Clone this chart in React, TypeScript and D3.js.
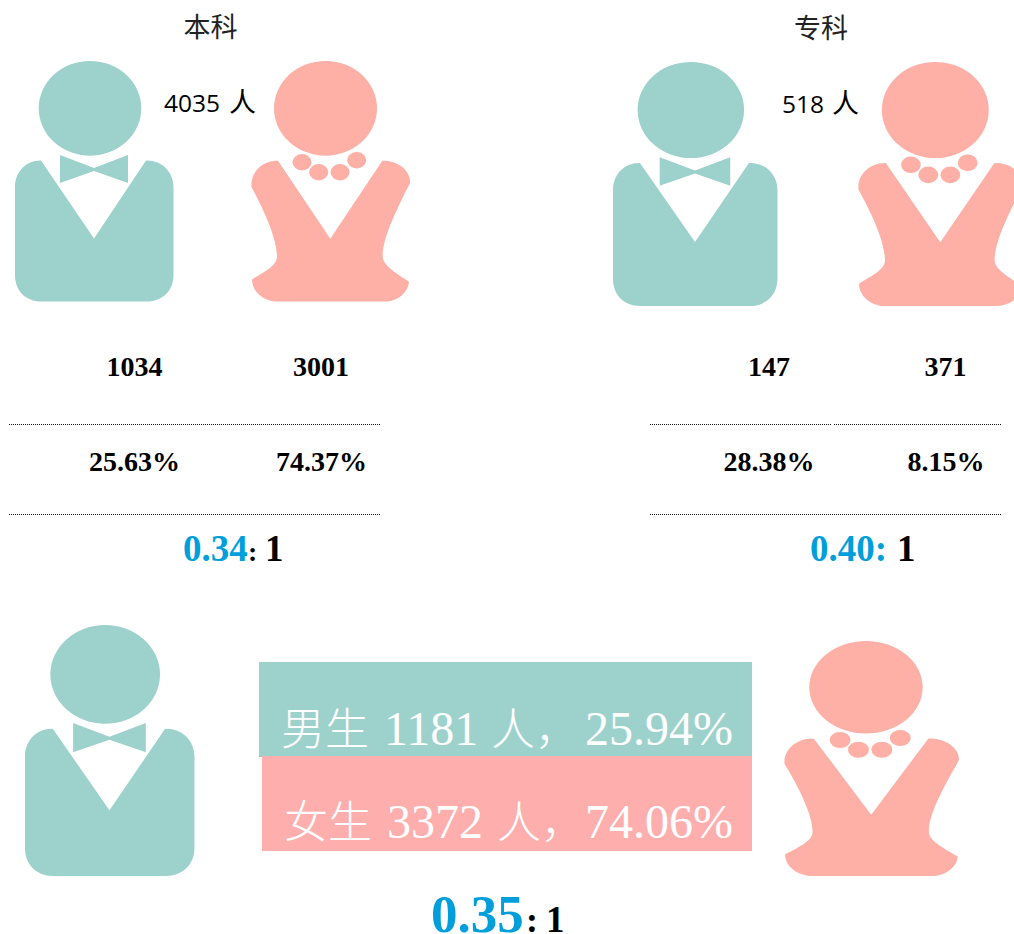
// Gender breakdown infographic: 本科 / 专科 / overall, with person icons.
import * as d3 from "d3";

const WIDTH = 1014;
const HEIGHT = 934;

const TEAL = "#9DD2CC";
const SALMON = "#FEAFA6";
const PINK = "#FFAEAE";
const BLUE = "#009FDB";

const SERIF = "'Liberation Serif', 'Noto Sans CJK SC', serif";
const SANS = "'Open Sans', 'Noto Sans CJK SC', sans-serif";
const CJK = "'Noto Sans CJK SC', sans-serif";

// data
const groupNames = ["本科", "专科"];
const groupTotals = [4035, 518];
const maleCounts = [1034, 147];
const femaleCounts = [3001, 371];
const malePct = [25.63, 28.38];
const femalePct = [74.37, 8.15];
const ratios = [0.34, 0.4];

const overallLabels = ["男生", "女生"];
const overallCounts = [1181, 3372];
const overallPct = [25.94, 74.06];
const overallRatio = 0.35;

const pct = (v: number) => d3.format(".2f")(v) + "%";
const fixed = d3.format(".2f");

type Box = { x0: number; x1: number; y0: number; y1: number };

// icon outlines are drawn in the coordinates of the top-left figures and then scaled to each box
function Man({ x0, x1, y0, y1, blur }: Box & { blur?: boolean }) {
  const sx = d3.scaleLinear().domain([15, 174]).range([x0, x1]);
  const sy = d3.scaleLinear().domain([61, 301.5]).range([y0, y1]);

  const body = d3.path();
  body.moveTo(sx(41), sy(160.5));
  body.lineTo(sx(94), sy(238.5));
  body.lineTo(sx(146), sy(160.5));
  body.bezierCurveTo(sx(162), sy(160), sx(173.5), sy(172), sx(173.5), sy(187));
  body.lineTo(sx(173.5), sy(275));
  body.bezierCurveTo(sx(173.5), sy(291), sx(162), sy(301.5), sx(147), sy(301.5));
  body.lineTo(sx(41), sy(301.5));
  body.bezierCurveTo(sx(26), sy(301.5), sx(15), sy(291), sx(15), sy(275));
  body.lineTo(sx(15), sy(187));
  body.bezierCurveTo(sx(15), sy(172), sx(26), sy(160), sx(41), sy(160.5));
  body.closePath();

  const bow = d3.path();
  bow.moveTo(sx(60), sy(155));
  bow.lineTo(sx(94), sy(168));
  bow.lineTo(sx(128), sy(155));
  bow.lineTo(sx(128), sy(183));
  bow.lineTo(sx(94), sy(171));
  bow.lineTo(sx(60), sy(183));
  bow.closePath();

  return (
    <g fill={TEAL} filter={blur ? "url(#soft)" : undefined}>
      <ellipse cx={sx(90)} cy={sy(108.3)} rx={sx(141.3) - sx(90)} ry={sy(155.7) - sy(108.3)} />
      <path d={body.toString()} />
      <path d={bow.toString()} />
    </g>
  );
}

const beads = [
  [302, 162.3],
  [318.7, 172.3],
  [340, 172.3],
  [356.7, 160.3],
];

function Woman({ x0, x1, y0, y1, blur }: Box & { blur?: boolean }) {
  const sx = d3.scaleLinear().domain([251, 411]).range([x0, x1]);
  const sy = d3.scaleLinear().domain([61, 301.5]).range([y0, y1]);

  const body = d3.path();
  body.moveTo(sx(278), sy(160.7));
  body.lineTo(sx(330.3), sy(238.7));
  body.lineTo(sx(382.3), sy(160.7));
  body.bezierCurveTo(sx(398), sy(160), sx(411), sy(171), sx(410), sy(183));
  body.bezierCurveTo(sx(398), sy(207), sx(382), sy(238), sx(382.7), sy(256.7));
  body.bezierCurveTo(sx(383), sy(266), sx(398), sy(274), sx(409), sy(281.7));
  body.bezierCurveTo(sx(408), sy(293), sx(397), sy(301.5), sx(385), sy(301.5));
  body.lineTo(sx(276.7), sy(301.5));
  body.bezierCurveTo(sx(264), sy(301.5), sx(252), sy(292), sx(252), sy(279.5));
  body.bezierCurveTo(sx(262), sy(273), sx(277), sy(266), sx(277), sy(256.7));
  body.bezierCurveTo(sx(277), sy(238), sx(263), sy(208), sx(251.5), sy(187));
  body.bezierCurveTo(sx(250), sy(173), sx(262), sy(160), sx(278), sy(160.7));
  body.closePath();

  return (
    <g fill={SALMON} filter={blur ? "url(#soft)" : undefined}>
      <ellipse cx={sx(325.5)} cy={sy(108.3)} rx={sx(377) - sx(325.5)} ry={sy(155.7) - sy(108.3)} />
      <path d={body.toString()} />
      {beads.map(([bx, by]) => (
        <ellipse key={bx} cx={sx(bx)} cy={sy(by)} rx={sx(9.5) - sx(0)} ry={sy(8.2) - sy(0)} />
      ))}
    </g>
  );
}

function Rule({ x1, x2, y }: { x1: number; x2: number; y: number }) {
  return <line x1={x1} x2={x2} y1={y} y2={y} stroke="#111" strokeWidth={1} strokeDasharray="1 1" />;
}

const boldNum = { fontFamily: SERIF, fontWeight: 700, fontSize: 28, textAnchor: "middle" as const };

export default function App() {
  return (
    <svg
      width={WIDTH}
      height={HEIGHT}
      viewBox={`0 0 ${WIDTH} ${HEIGHT}`}
      style={{ position: "absolute", left: 0, top: 0, background: "#fff" }}
    >
      <defs>
        <filter id="soft" x="-5%" y="-5%" width="110%" height="110%">
          <feGaussianBlur stdDeviation="0.6" />
        </filter>
      </defs>

      {/* titles and totals */}
      <text x={210.5} y={37} fontFamily={CJK} fontSize={27} fill="#222" textAnchor="middle">{groupNames[0]}</text>
      <text x={821} y={38} fontFamily={CJK} fontSize={27} fill="#222" textAnchor="middle">{groupNames[1]}</text>
      <text x={164} y={112} fontFamily={SANS} fontSize={24.5} fill="#000">{groupTotals[0]}</text>
      <text x={229} y={112} fontFamily={CJK} fontSize={27} fill="#000">人</text>
      <text x={782} y={113} fontFamily={SANS} fontSize={24.5} fill="#000">{groupTotals[1]}</text>
      <text x={832} y={113} fontFamily={CJK} fontSize={27} fill="#000">人</text>

      {/* icons */}
      <Man x0={15} x1={174} y0={61} y1={301.5} />
      <Woman x0={251} x1={411} y0={61} y1={301.5} />
      <Man x0={613} x1={778} y0={62} y1={306} />
      <Woman x0={858} x1={1024} y0={62} y1={306} />
      <Man x0={25} x1={195} y0={625} y1={876} blur />
      <Woman x0={784} x1={960} y0={641} y1={876} blur />

      {/* counts, shares and ratios */}
      <text x={134.5} y={376} {...boldNum}>{maleCounts[0]}</text>
      <text x={321} y={376} {...boldNum}>{femaleCounts[0]}</text>
      <text x={769} y={376} {...boldNum}>{maleCounts[1]}</text>
      <text x={945.5} y={376} {...boldNum}>{femaleCounts[1]}</text>

      <Rule x1={9} x2={380} y={424.5} />
      <Rule x1={650} x2={831} y={424.5} />
      <Rule x1={834} x2={1002} y={424.5} />

      <text x={134.5} y={471} {...boldNum}>{pct(malePct[0])}</text>
      <text x={321.5} y={471} {...boldNum}>{pct(femalePct[0])}</text>
      <text x={769} y={471} {...boldNum}>{pct(malePct[1])}</text>
      <text x={946} y={471} {...boldNum}>{pct(femalePct[1])}</text>

      <Rule x1={9} x2={380} y={514.5} />
      <Rule x1={650} x2={1002} y={514.5} />

      <text x={183} y={561} fontFamily={SERIF} fontWeight={700} fontSize={37} fill={BLUE}>{fixed(ratios[0])}</text>
      <text x={248} y={561} fontFamily={SERIF} fontWeight={700} fontSize={28} fill="#000">:</text>
      <text x={265} y={561} fontFamily={SERIF} fontWeight={700} fontSize={37} fill="#000">1</text>
      <text x={810} y={561} fontFamily={SERIF} fontWeight={700} fontSize={37} fill={BLUE}>{fixed(ratios[1])}:</text>
      <text x={897} y={561} fontFamily={SERIF} fontWeight={700} fontSize={37} fill="#000">1</text>

      {/* overall bands */}
      <rect x={259} y={662} width={493} height={95} fill={TEAL} />
      <rect x={262} y={756} width={490} height={95} fill={PINK} />

      <g fill="#fff" fontSize={48} fontFamily={SERIF}>
        <text x={281} y={745} fontFamily={CJK} fontSize={44} fontWeight={300}>{overallLabels[0]}</text>
        <text x={384} y={745}>{overallCounts[0]}</text>
        <text x={491} y={745} fontFamily={CJK} fontSize={44} fontWeight={300}>人，</text>
        <text x={585} y={745}>{pct(overallPct[0])}</text>

        <text x={284} y={838} fontFamily={CJK} fontSize={44} fontWeight={300}>{overallLabels[1]}</text>
        <text x={387} y={838}>{overallCounts[1]}</text>
        <text x={497} y={838} fontFamily={CJK} fontSize={44} fontWeight={300}>人，</text>
        <text x={585} y={838}>{pct(overallPct[1])}</text>
      </g>

      <text x={431} y={932} fontFamily={SERIF} fontWeight={700} fontSize={53} fill={BLUE}>{fixed(overallRatio)}</text>
      <text x={526} y={932} fontFamily={SERIF} fontWeight={700} fontSize={36} fill="#000">:</text>
      <text x={546} y={932} fontFamily={SERIF} fontWeight={700} fontSize={37} fill="#000">1</text>
    </svg>
  );
}
